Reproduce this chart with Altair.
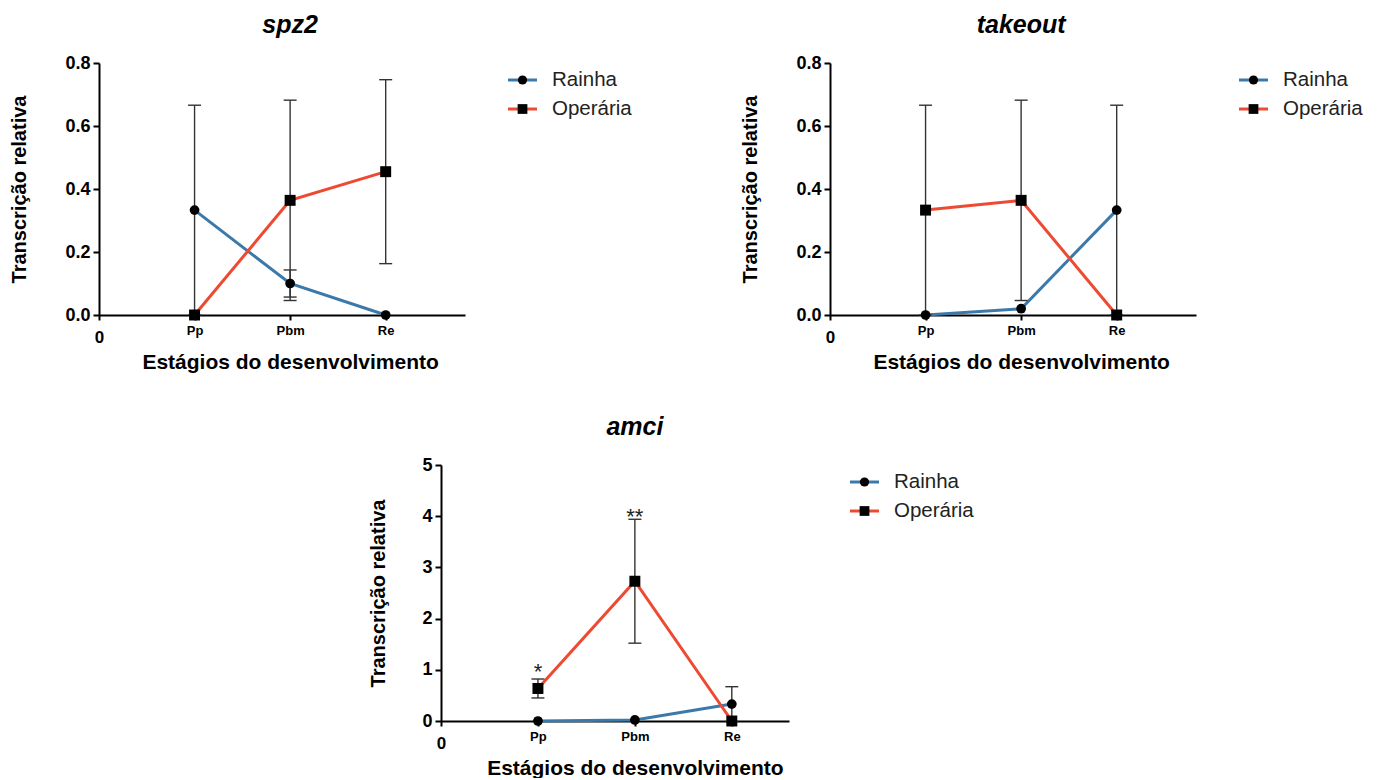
import json
import altair as alt
import pandas as pd

# ---------------- data ----------------
stages = ["Pp", "Pbm", "Re"]
stage_pos = [1, 2, 3]
series_names = ["Rainha", "Operária"]

spz2_rainha = [0.333, 0.100, 0.000]
spz2_rainha_err = [0.333, 0.043, 0.0]
spz2_operaria = [0.000, 0.364, 0.455]
spz2_operaria_err = [0.0, 0.318, 0.292]

takeout_rainha = [0.000, 0.020, 0.333]
takeout_rainha_err = [0.0, 0.0, 0.333]
takeout_operaria = [0.333, 0.364, 0.000]
takeout_operaria_err = [0.333, 0.318, 0.0]

amci_rainha = [0.00, 0.02, 0.33]
amci_rainha_err = [0.0, 0.0, 0.34]
amci_operaria = [0.635, 2.73, 0.00]
amci_operaria_err = [0.185, 1.21, 0.0]
amci_stars = ["*", "**"]
amci_star_pos = [1, 2]
amci_star_y = [1.05, 4.08]

# ---------------- style ----------------
FONT = "Liberation Sans"
BLUE = "#3c79ab"
RED = "#ee4a32"
ERR = "#333333"


def build_frame(r, re, o, oe):
    rows = []
    for name, vals, errs in [(series_names[0], r, re), (series_names[1], o, oe)]:
        for st, p, v, e in zip(stages, stage_pos, vals, errs):
            rows.append({"series": name, "stage": st, "pos": p, "value": v,
                         "err": e, "lo": v - e, "hi": v + e})
    return pd.DataFrame(rows)


label_expr = "datum.value == 0 ? '0' : " + json.dumps(stages).replace('"', "'") + "[datum.value - 1]"


def legend_layers(xo, yo):
    layers = []
    specs = [(series_names[0], BLUE, "circle", 85), (series_names[1], RED, "square", 95)]
    for i, (name, col, shape, size) in enumerate(specs):
        y = yo + i * 29
        d = pd.DataFrame({"label": [name]})
        layers.append(alt.Chart(d).mark_rule(color=col, strokeWidth=3).encode(
            x=alt.value(xo), x2=alt.value(xo + 29), y=alt.value(y)))
        layers.append(alt.Chart(d).mark_point(shape=shape, filled=True, color="black",
                                              size=size, opacity=1).encode(
            x=alt.value(xo + 14.5), y=alt.value(y)))
        layers.append(alt.Chart(d).mark_text(align="left", baseline="middle", fontSize=20.5,
                                             font=FONT, color="#222222").encode(
            x=alt.value(xo + 44), y=alt.value(y), text="label:N"))
    return layers


def panel(title, df, ymax, yvals, yfmt, xmax, width, height, ytitlepad, stars=None):
    unit = width / xmax
    xscale = alt.Scale(domain=[0, xmax], nice=False, zero=True)
    yscale = alt.Scale(domain=[0, ymax], nice=False, zero=True)
    xaxis = alt.Axis(values=[0, 1, 2, 3], labelExpr=label_expr, labelFlush=False,
                     labelOverlap=False, labelFont=FONT, labelFontWeight="bold",
                     labelFontSize={"condition": {"test": "datum.value == 0", "value": 17}, "value": 13},
                     labelBaseline={"condition": {"test": "datum.value == 0", "value": "line-top"}, "value": "top"},
                     labelLineHeight=26,
                     labelPadding=4, tickSize=5, grid=False,
                     domainColor="black", domainWidth=2, tickColor="black", tickWidth=2,
                     labelColor="black", titleColor="black",
                     titleX=2 * unit, titleY=36, titleBaseline="top", titleAlign="center",
                     titleFont=FONT, titleFontSize=21, titleFontWeight="bold")
    yaxis = alt.Axis(values=yvals, format=yfmt, labelFont=FONT, labelFontWeight="bold",
                     labelFontSize=18, labelPadding=3, tickSize=6, grid=False,
                     domainColor="black", domainWidth=2, tickColor="black", tickWidth=2,
                     labelColor="black", titleColor="black",
                     titleFont=FONT, titleFontSize=20, titleFontWeight="bold",
                     titlePadding=ytitlepad)
    x = alt.X("pos:Q", scale=xscale, axis=xaxis, title="Estágios do desenvolvimento")
    y = alt.Y("value:Q", scale=yscale, axis=yaxis, title="Transcrição relativa")
    base = alt.Chart(df)
    lines = base.mark_line(strokeWidth=3).encode(
        x=x, y=y,
        color=alt.Color("series:N", scale=alt.Scale(domain=series_names, range=[BLUE, RED]), legend=None),
    )
    eb = base.transform_filter("datum.err > 0")
    rules = eb.mark_rule(color=ERR, strokeWidth=1.4).encode(
        x="pos:Q", y="lo:Q", y2="hi:Q")
    caps_lo = eb.mark_tick(orient="horizontal", size=13, thickness=1.4, color=ERR, opacity=1).encode(
        x="pos:Q", y="lo:Q")
    caps_hi = eb.mark_tick(orient="horizontal", size=13, thickness=1.4, color=ERR, opacity=1).encode(
        x="pos:Q", y="hi:Q")
    points = base.mark_point(filled=True, color="black", opacity=1).encode(
        x="pos:Q", y="value:Q",
        shape=alt.Shape("series:N", scale=alt.Scale(domain=series_names, range=["circle", "square"]), legend=None),
        size=alt.Size("series:N", scale=alt.Scale(domain=series_names, range=[95, 120]), legend=None),
    )
    layers = [lines, rules, caps_lo, caps_hi, points]
    if stars is not None:
        sdf = pd.DataFrame({"pos": stars[0], "y": stars[1], "t": stars[2]})
        layers.append(alt.Chart(sdf).mark_text(fontSize=22, font=FONT, color="#222222",
                                               baseline="alphabetic", dy=12).encode(
            x="pos:Q", y="y:Q", text="t:N"))
    layers += legend_layers(409, 17)
    return alt.layer(*layers).properties(
        width=width, height=height,
        title=alt.TitleParams(text=title, font=FONT, fontSize=25, fontWeight="bold",
                              fontStyle="italic", color="black", offset=16,
                              dx=2 * unit - width / 2),
    )


spz2 = panel("spz2", build_frame(spz2_rainha, spz2_rainha_err, spz2_operaria, spz2_operaria_err),
             0.8, [0, 0.2, 0.4, 0.6, 0.8], ".1f", 3.83, 366, 252, 35)
takeout = panel("takeout", build_frame(takeout_rainha, takeout_rainha_err, takeout_operaria, takeout_operaria_err),
                0.8, [0, 0.2, 0.4, 0.6, 0.8], ".1f", 3.83, 366, 252, 35)
amci = panel("amci", build_frame(amci_rainha, amci_rainha_err, amci_operaria, amci_operaria_err),
             5, [0, 1, 2, 3, 4, 5], "d", 3.59, 348, 256, 33,
             stars=(amci_star_pos, amci_star_y, amci_stars))

spacer = alt.Chart(pd.DataFrame({"a": [0]})).mark_point(opacity=0).encode(
    x=alt.value(0), y=alt.value(0)).properties(width=269, height=10)

top = alt.hconcat(spz2, takeout, spacing=108)
bottom = alt.hconcat(spacer, amci, spacing=0)

chart = alt.vconcat(top, bottom, spacing=43).properties(
    padding={"left": 9, "top": 13, "right": 0, "bottom": 0},
    background="white",
).configure_view(stroke=None)

chart.save("out.html", embed_options={"renderer": "svg", "actions": False})
